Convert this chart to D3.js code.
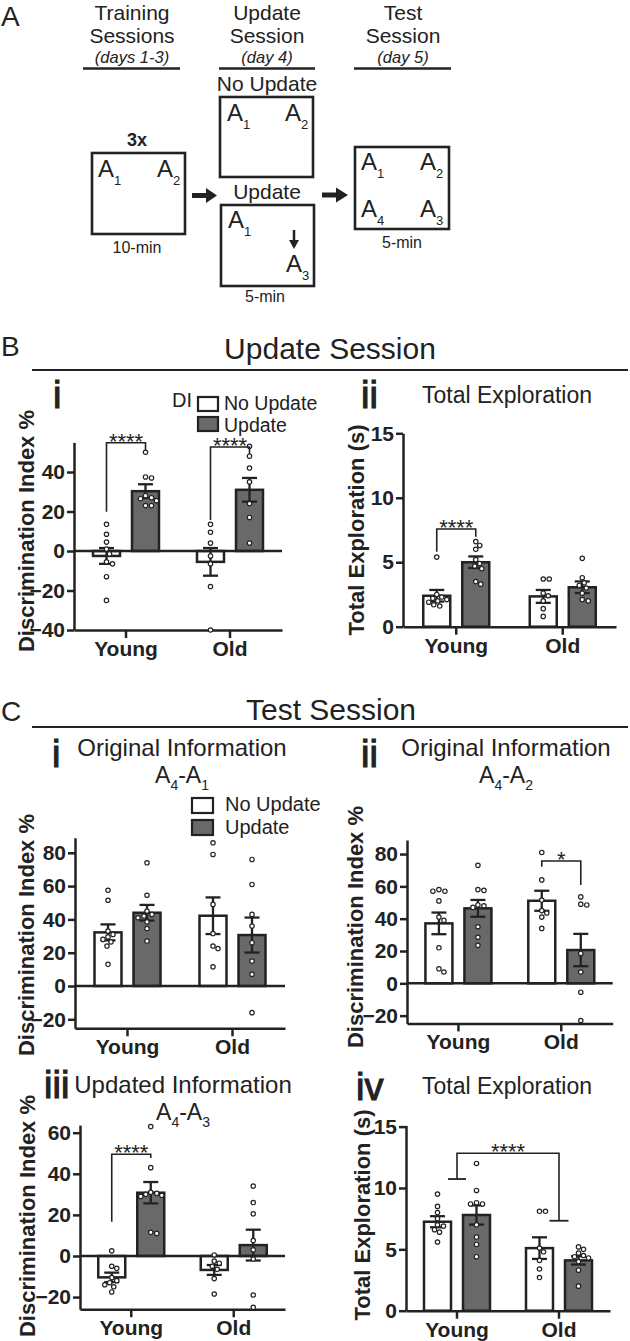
<!DOCTYPE html>
<html><head><meta charset="utf-8">
<script src="https://cdn.jsdelivr.net/npm/d3@7"></script>
<style>
body{margin:0;background:#fff}
svg{display:block}
text{font-family:"Liberation Sans", Arial, sans-serif; fill:#222}
</style>
</head><body><svg id="c" width="630" height="1341"></svg>
<script>
// ---------------- DATA ----------------
const groups = ["Young", "Old"];
const conditions = ["No Update", "Update"];
const condFill = ["#ffffff", "#696969"];

// order of bars: Young-No Update, Young-Update, Old-No Update, Old-Update
const biMean = [-2.5, 30.3, -5.5, 31.0];
const biSem = [4.0, 3.5, 7.0, 6.0];
const biPts = [
  [13.5, 8.5, 4.5, 1, -1.5, -5.5, -6.5, -13, -25],
  [50, 37.5, 37, 28, 27, 26.5, 25.5, 23, 23],
  [13.5, 9.5, 4, -2.5, -6.5, -18, -40],
  [53, 48, 42, 35, 24, 17, 4]
];
const biTicks = [-40, -20, 0, 20, 40];
const biSig = [
  {a: 0, b: 1, top: 54.8, endA: 19.9, endB: 51.1, label: "****"},
  {a: 2, b: 3, top: 52.7, endA: 15.7, endB: 49.1, label: "****"}
];

const biiMean = [2.4, 5.0, 2.35, 3.06];
const biiSem = [0.45, 0.45, 0.5, 0.45];
const biiPts = [
  [5.4, 2.5, 2.3, 2.2, 2.1, 2.0, 1.9, 1.7, 1.6],
  [6.6, 6.3, 6.0, 5.2, 4.9, 4.7, 4.5, 3.5, 3.3],
  [3.7, 3.7, 2.6, 2.4, 2.0, 1.4, 0.8],
  [5.3, 3.8, 3.4, 3.2, 3.0, 2.6, 2.1, 2.0]
];
const biiTicks = [0, 5, 10, 15];
const biiSig = [{a: 0, b: 1, top: 7.58, endA: 5.82, endB: 6.98, label: "****"}];

const ciMean = [32.2, 44.0, 42.2, 30.6];
const ciSem = [4.8, 4.7, 11.0, 10.5];
const ciPts = [
  [57.5, 51.5, 33, 31, 29.5, 28, 26.5, 24, 13],
  [74, 54.5, 45, 43, 42, 41, 38.5, 34.5, 27],
  [86, 79, 49, 31.5, 24, 22.5, 11.5],
  [76, 61, 43, 36, 26, 15, 7, -16]
];
const ciTicks = [-20, 0, 20, 40, 60, 80];
const ciSig = [];

const ciiMean = [37.1, 46.4, 51.1, 20.6];
const ciiSem = [6.7, 5.2, 6.2, 10.0];
const ciiPts = [
  [58, 57, 57, 51, 41, 39, 22, 9, 7],
  [73, 58, 57.5, 48.5, 48, 47, 35, 28.5, 23.5],
  [81, 64, 51.5, 45, 43.5, 41, 34],
  [53.5, 49, 48.5, 18.5, 7, -5.5, -23]
];
const ciiTicks = [-20, 0, 20, 40, 60, 80];
const ciiSig = [{a: 2, b: 3, top: 75.7, endA: 72.2, endB: 60.8, label: "*"}];

const ciiiMean = [-10.4, 30.8, -6.8, 5.3];
const ciiiSem = [2.3, 5.2, 2.4, 7.5];
const ciiiPts = [
  [2.5, -5, -6, -10.5, -12, -13, -14, -15, -17.5],
  [63, 43, 31, 30.5, 30, 29.5, 29, 11.5, 11],
  [0.5, -2.5, -3.5, -5, -6.5, -11, -18.5],
  [34, 26, 20.5, 7.5, 3, -1.5, -19, -25]
];
const ciiiTicks = [-20, 0, 20, 40, 60];
const ciiiSig = [{a: 0, b: 1, top: 49.5, endA: 16.7, endB: 47.7, label: "****"}];

const civMean = [7.25, 7.8, 5.1, 4.1];
const civSem = [0.45, 0.78, 0.88, 0.34];
const civPts = [
  [9.5, 8.5, 8.0, 7.5, 7.0, 6.9, 6.6, 6.4, 5.6],
  [12, 9.8, 8.8, 8.7, 8.7, 7.0, 6.0, 5.4, 4.4],
  [8.1, 8.1, 5.1, 4.8, 4.1, 3.4, 2.7],
  [5.2, 5.0, 4.7, 4.5, 4.4, 4.3, 4.0, 3.3, 2.0]
];
const civTicks = [0, 5, 10, 15];
const civSig = [{group: true, a: 0, b: 1, top: 12.83, endA: 10.73, endB: 7.33, label: "****"}];

// ---------------- DRAW ----------------
const svg = d3.select("#c");
const INK = "#222";

function txt(x, y, s, size, opts = {}) {
  return svg.append("text").attr("x", x).attr("y", y).text(s)
    .attr("font-size", size)
    .attr("text-anchor", opts.anchor || "start")
    .attr("font-weight", opts.weight || "normal")
    .attr("font-style", opts.style || "normal");
}
function numeral(x, y, s) {
  return txt(x, y, s, 38).attr("stroke", INK).attr("stroke-width", 1.1);
}
function hline(x1, x2, y, w) {
  svg.append("line").attr("x1", x1).attr("x2", x2).attr("y1", y).attr("y2", y)
    .attr("stroke", INK).attr("stroke-width", w);
}
function aSub(x, y, sub, size, subSize, dy) {
  const t = svg.append("text").attr("x", x).attr("y", y).attr("font-size", size);
  t.append("tspan").text("A");
  t.append("tspan").attr("dy", dy).attr("font-size", subSize).text(sub);
  return t;
}
function aPair(cx, y, s1, s2, size, subSize, dy) {
  const t = svg.append("text").attr("x", cx).attr("y", y).attr("font-size", size).attr("text-anchor", "middle");
  t.append("tspan").text("A");
  t.append("tspan").attr("dy", dy).attr("font-size", subSize).text(s1);
  t.append("tspan").attr("dy", -dy).text("-A");
  t.append("tspan").attr("dy", dy).attr("font-size", subSize).text(s2);
}

// ---------- Panel A ----------
txt(1, 26, "A", 28);
const heads = [
  {cx: 132, l1: "Training", l2: "Sessions", l3: "(days 1-3)", ux: [83, 180]},
  {cx: 267, l1: "Update", l2: "Session", l3: "(day 4)", ux: [219, 315]},
  {cx: 403, l1: "Test", l2: "Session", l3: "(day 5)", ux: [354, 451]}
];
heads.forEach(h => {
  txt(h.cx, 19.5, h.l1, 21, {anchor: "middle"});
  txt(h.cx, 43, h.l2, 21, {anchor: "middle"});
  txt(h.cx, 63, h.l3, 16.5, {anchor: "middle", style: "italic"});
  hline(h.ux[0], h.ux[1], 68.5, 2.5);
});
function box(x, y, w, h) {
  svg.append("rect").attr("x", x).attr("y", y).attr("width", w).attr("height", h)
    .attr("fill", "none").attr("stroke", INK).attr("stroke-width", 2.6);
}
box(92, 153, 93, 81);
box(220, 97, 93, 80);
box(221, 205, 93, 81);
box(355, 147, 94, 82);
txt(137, 146, "3x", 18, {anchor: "middle", weight: "bold"});
aSub(98, 177, "1", 24, 13, 8);
aSub(157, 177, "2", 24, 13, 8);
txt(137, 253, "10-min", 16, {anchor: "middle"});
txt(267, 91, "No Update", 21, {anchor: "middle"});
aSub(227, 121, "1", 24, 13, 8);
aSub(285, 121, "2", 24, 13, 8);
txt(267, 199, "Update", 21, {anchor: "middle"});
aSub(228, 228, "1", 24, 13, 8);
aSub(286, 272, "3", 24, 13, 8);
svg.append("line").attr("x1", 294).attr("x2", 294).attr("y1", 230).attr("y2", 242)
  .attr("stroke", INK).attr("stroke-width", 2.5);
svg.append("path").attr("d", "M289,240 L299,240 L294,249 Z").attr("fill", INK);
txt(265, 302, "5-min", 16, {anchor: "middle"});
aSub(361, 170, "1", 24, 13, 8);
aSub(420, 170, "2", 24, 13, 8);
aSub(361, 217, "4", 24, 13, 8);
aSub(420, 217, "3", 24, 13, 8);
txt(402, 248, "5-min", 16, {anchor: "middle"});
svg.append("path").attr("d", "M192,193 L206,193 L206,188 L217,195.5 L206,203 L206,198 L192,198 Z").attr("fill", INK);
svg.append("path").attr("d", "M322,192.5 L336,192.5 L336,187.5 L348,195 L336,202.5 L336,197.5 L322,197.5 Z").attr("fill", INK);

// ---------- Section headers ----------
txt(1, 356, "B", 28);
txt(330, 359, "Update Session", 30, {anchor: "middle"});
hline(32, 628, 370, 2.2);
txt(1, 721, "C", 28);
txt(331, 720, "Test Session", 30, {anchor: "middle"});
hline(32, 628, 727, 2.2);

// panel numerals & titles
numeral(53, 408, "i");
txt(172, 407, "DI", 20);
numeral(361, 408, "ii");
txt(507, 403, "Total Exploration", 23, {anchor: "middle"});
numeral(52, 767, "i");
txt(182, 756, "Original Information", 24, {anchor: "middle"});
aPair(182, 783, "4", "1", 23, 14, 7);
numeral(361, 767, "ii");
txt(506, 756, "Original Information", 24, {anchor: "middle"});
aPair(506, 783, "4", "2", 23, 14, 7);
numeral(44, 1098, "iii");
txt(183, 1093, "Updated Information", 24, {anchor: "middle"});
aPair(183, 1120, "4", "3", 23, 14, 7);
numeral(356, 1100, "iv");
txt(507, 1094, "Total Exploration", 23, {anchor: "middle"});

// legends
function legend(x, y1, y2, w, h, tx, b1, b2, fs) {
  [y1, y2].forEach((yy, i) => {
    svg.append("rect").attr("x", x).attr("y", yy).attr("width", w).attr("height", h)
      .attr("fill", condFill[i]).attr("stroke", INK).attr("stroke-width", 2.2);
  });
  txt(tx, b1, conditions[0], fs);
  txt(tx, b2, conditions[1], fs);
}
legend(198, 397, 417, 20, 14, 224, 410, 432, 19.5);
legend(192, 798, 820, 21, 15, 225, 811, 834, 20);

// ---------- Bar panels ----------
function dodge(vals, y, minD) {
  const items = vals.map((v, i) => ({v, i, py: y(v)})).sort((a, b) => d3.descending(a.v, b.v));
  const placed = [];
  items.forEach(it => {
    let off = 0;
    for (let k = 0; k < 40; k++) {
      const cands = k === 0 ? [0] : [k, -k];
      let ok = null;
      for (const c of cands) {
        if (placed.every(p => Math.hypot(p.dx - c, p.py - it.py) >= minD)) { ok = c; break; }
      }
      if (ok !== null) { off = ok; break; }
    }
    it.dx = off;
    placed.push(it);
  });
  return items;
}

function barPanel(cfg) {
  const y = d3.scaleLinear().domain(cfg.dom).range(cfg.yr);
  const x0 = d3.scaleBand().domain(groups).range(cfg.xr);
  const x1 = d3.scaleBand().domain(conditions).range([-33, 33]).paddingInner(0.308);
  const gc = g => x0(g) + x0.bandwidth() / 2;
  const bars = [];
  groups.forEach((g, gi) => conditions.forEach((c, ci) => {
    const i = gi * 2 + ci;
    bars.push({g, c, ci, mean: cfg.mean[i], sem: cfg.sem[i], pts: cfg.pts[i],
      x: gc(g) + x1(c), w: x1.bandwidth(), cx: gc(g) + x1(c) + x1.bandwidth() / 2});
  }));
  const G = svg.append("g");
  G.selectAll("rect.bar").data(bars).join("rect").attr("class", "bar")
    .attr("x", d => d.x).attr("width", d => d.w)
    .attr("y", d => Math.min(y(0), y(d.mean)))
    .attr("height", d => Math.abs(y(d.mean) - y(0)))
    .attr("fill", d => condFill[d.ci]).attr("stroke", INK).attr("stroke-width", 2.5);
  if (cfg.dom[0] < 0) {
    G.append("line").attr("x1", cfg.xr[0]).attr("x2", cfg.xr[1])
      .attr("y1", y(0)).attr("y2", y(0)).attr("stroke", INK).attr("stroke-width", 2.5);
  }
  const ya = G.append("g").attr("transform", `translate(${cfg.xr[0]},0)`)
    .call(d3.axisLeft(y).tickValues(cfg.ticks).tickSize(7).tickSizeOuter(0).tickPadding(2).tickFormat(d3.format("d")));
  const xa = G.append("g").attr("transform", `translate(0,${y(cfg.dom[0])})`)
    .call(d3.axisBottom(x0).tickSize(8).tickSizeOuter(0).tickPadding(3));
  [ya, xa].forEach(a => {
    a.attr("font-family", null).attr("font-size", 21).attr("font-weight", "bold").attr("color", INK);
    a.selectAll("path,line").attr("stroke-width", 2.5);
  });
  const eb = G.selectAll("g.eb").data(bars).join("g").attr("class", "eb");
  eb.append("line").attr("x1", d => d.cx).attr("x2", d => d.cx)
    .attr("y1", d => y(d.mean - d.sem)).attr("y2", d => y(d.mean + d.sem))
    .attr("stroke", INK).attr("stroke-width", 2.3);
  [-1, 1].forEach(s => {
    eb.append("line").attr("x1", d => d.cx - 7.5).attr("x2", d => d.cx + 7.5)
      .attr("y1", d => y(d.mean + s * d.sem)).attr("y2", d => y(d.mean + s * d.sem))
      .attr("stroke", INK).attr("stroke-width", 2.3);
  });
  bars.forEach(b => {
    const items = dodge(b.pts, y, 5.4);
    G.selectAll(null).data(items).join("circle")
      .attr("cx", d => b.cx + d.dx).attr("cy", d => d.py).attr("r", 2.2)
      .attr("fill", "#fff").attr("stroke", INK).attr("stroke-width", 1.2);
  });
  cfg.sig.forEach(s => {
    const xa_ = s.group ? gc(groups[s.a]) : bars[s.a].cx;
    const xb_ = s.group ? gc(groups[s.b]) : bars[s.b].cx;
    G.append("path")
      .attr("d", `M${xa_},${y(s.endA)} V${y(s.top)} H${xb_} V${y(s.endB)}`)
      .attr("fill", "none").attr("stroke", INK).attr("stroke-width", 1.6);
    if (s.group) {
      hline(xa_ - 9, xa_ + 9, y(s.endA), 1.8);
      hline(xb_ - 9.5, xb_ + 9.5, y(s.endB), 1.8);
    }
    svg.append("text").attr("x", (xa_ + xb_) / 2).attr("y", y(s.top) - 7 + 12.8)
      .attr("text-anchor", "middle").attr("font-size", 22).text(s.label);
  });
  svg.append("text").attr("transform", `translate(${cfg.lx},${cfg.ly}) rotate(-90)`)
    .attr("text-anchor", "middle").attr("font-size", 22).attr("font-weight", "bold").text(cfg.ylabel);
}

const DI = "Discrimination Index %";
const TE = "Total Exploration (s)";
barPanel({mean: biMean, sem: biSem, pts: biPts, ticks: biTicks, sig: biSig,
  xr: [74, 282], dom: [-40, 55], yr: [630, 442.4], lx: 34, ly: 531, ylabel: DI});
barPanel({mean: biiMean, sem: biiSem, pts: biiPts, ticks: biiTicks, sig: biiSig,
  xr: [403, 616], dom: [0, 15], yr: [626.7, 433.3], lx: 364, ly: 530, ylabel: TE});
barPanel({mean: ciMean, sem: ciSem, pts: ciPts, ticks: ciTicks, sig: ciSig,
  xr: [75, 285], dom: [-25.4, 89], yr: [1028.3, 837.8], lx: 34, ly: 935, ylabel: DI});
barPanel({mean: ciiMean, sem: ciiSem, pts: ciiPts, ticks: ciiTicks, sig: ciiSig,
  xr: [407, 612.7], dom: [-24.8, 88.7], yr: [1023.4, 840], lx: 363, ly: 927, ylabel: DI});
barPanel({mean: ciiiMean, sem: ciiiSem, pts: ciiiPts, ticks: ciiiTicks, sig: ciiiSig,
  xr: [80, 285], dom: [-25.9, 63.7], yr: [1309.2, 1125.1], lx: 35, ly: 1216, ylabel: DI});
barPanel({mean: civMean, sem: civSem, pts: civPts, ticks: civTicks, sig: civSig,
  xr: [406, 610], dom: [0, 15.1], yr: [1310.7, 1125.4], lx: 370, ly: 1215, ylabel: TE});
</script>
</body></html>
